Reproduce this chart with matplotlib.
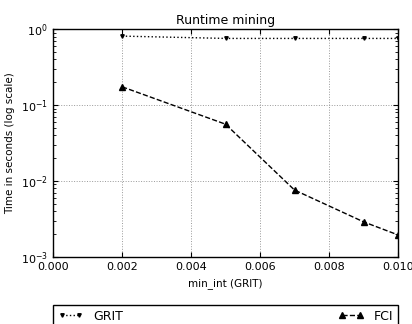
import numpy as np
import matplotlib
matplotlib.use("Agg")
import matplotlib.pyplot as plt

# data
min_int = [0.002, 0.005, 0.007, 0.009, 0.010]
grit_time = [0.81, 0.755, 0.755, 0.755, 0.755]
fci_time = [0.174, 0.056, 0.0076, 0.0029, 0.00195]

fig = plt.figure(figsize=(4.12, 3.24), dpi=100)
ax = fig.add_axes([0.129, 0.207, 0.837, 0.703])

ax.plot(min_int, grit_time, linestyle=':', color='black', marker='v',
        markersize=2.5, linewidth=1.0, label='GRIT')
ax.plot(min_int, fci_time, linestyle='--', color='black', marker='^',
        markersize=5, linewidth=1.0, label='FCI')

ax.set_yscale('log')
ax.set_xlim(0.0, 0.010)
ax.set_ylim(1e-3, 1e0)
ax.set_xticks([0.000, 0.002, 0.004, 0.006, 0.008, 0.010])
ax.set_xticklabels(['0.000', '0.002', '0.004', '0.006', '0.008', '0.010'])

ax.tick_params(direction='in', which='both', top=True, right=True,
               labelsize=8, pad=4)
ax.grid(True, which='major', linestyle=':', color='#999999', linewidth=0.7)

ax.set_title('Runtime mining', fontsize=9, pad=4)
ax.set_xlabel('min_int (GRIT)', fontsize=7.5)
ax.set_ylabel('Time in seconds (log scale)', fontsize=7.5)

for s in ax.spines.values():
    s.set_linewidth(1.0)

leg = ax.legend(loc='upper left', bbox_to_anchor=(0, -0.31, 1, 0.1),
                ncol=2, mode='expand', borderaxespad=0, numpoints=2,
                fancybox=False, framealpha=1, edgecolor='black',
                fontsize=9, handlelength=2.0)
leg.get_frame().set_linewidth(1.0)

fig.savefig('out.png', dpi=100)
